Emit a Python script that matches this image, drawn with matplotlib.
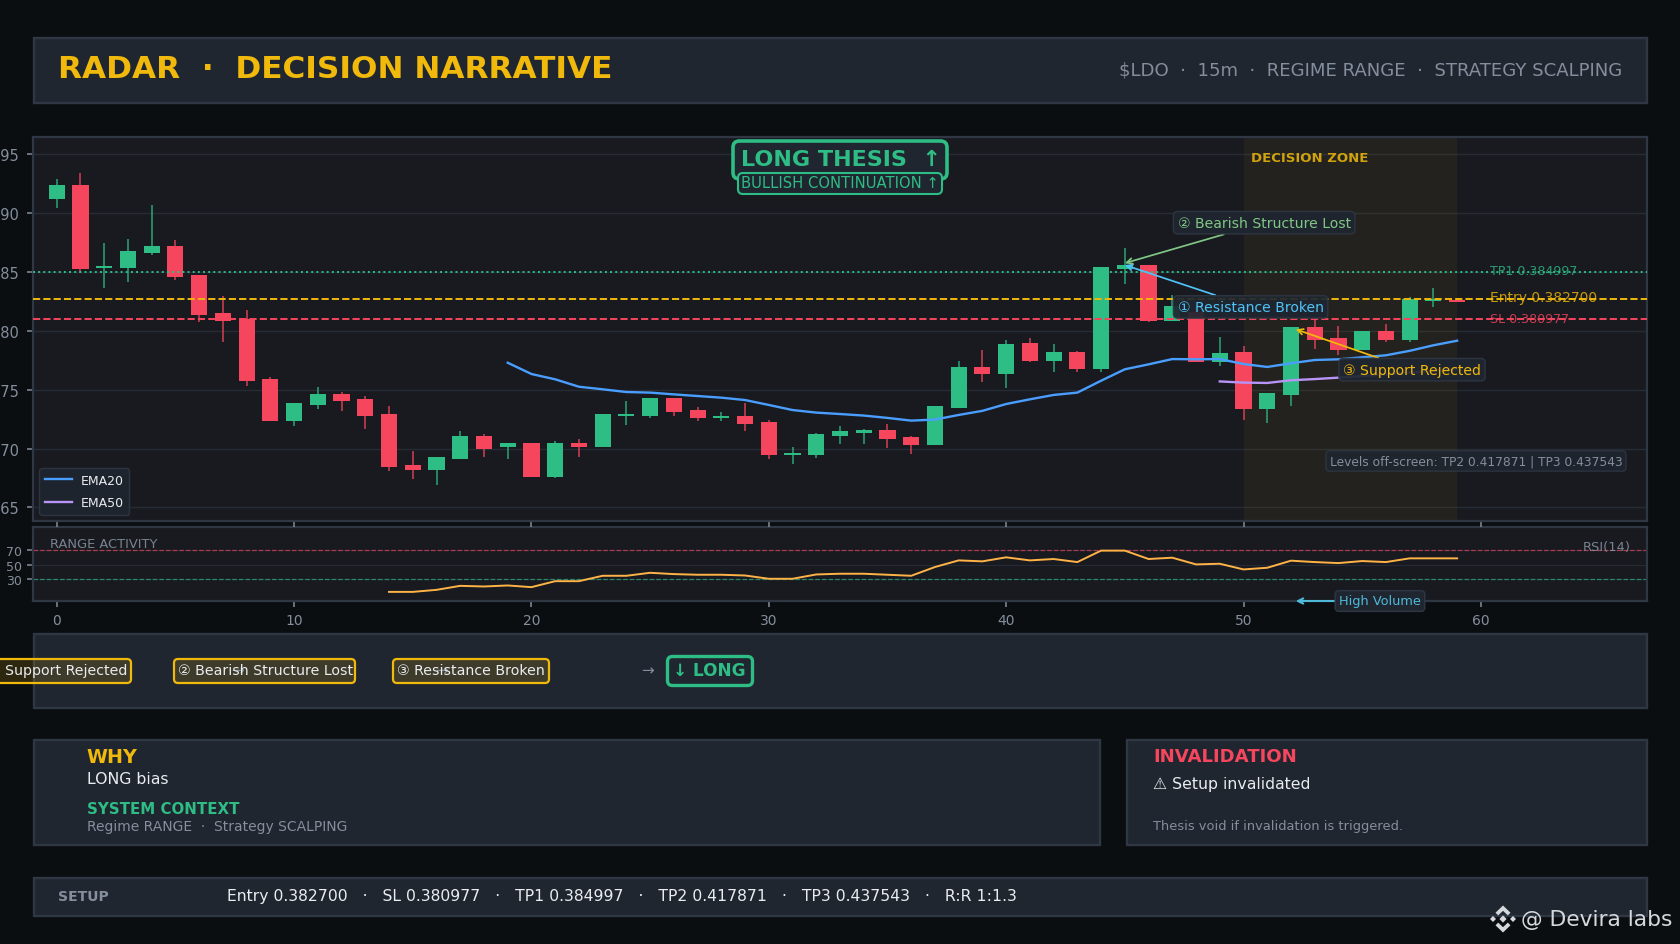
import numpy as np
import matplotlib
matplotlib.use("Agg")
import matplotlib.pyplot as plt
from matplotlib.patches import FancyBboxPatch, Rectangle, Polygon

plt.rcParams['font.family'] = ['DejaVu Sans']

# ---------- data (prices in thousandths) ----------
opens = [391.20,392.39,385.34,385.34,386.61,387.21,384.75,381.52,381.03,375.90,
         372.34,373.70,374.63,374.20,372.93,368.60,368.17,369.11,371.06,370.09,
         370.43,367.62,370.51,370.17,372.76,372.76,374.29,373.27,372.59,372.76,
         372.25,369.45,369.45,371.06,371.32,371.57,370.98,370.30,373.44,376.93,
         376.33,378.97,377.44,378.20,376.76,385.25,385.59,380.84,381.63,377.35,
         378.20,373.36,374.55,380.33,379.39,378.37,379.99,379.22,382.54,382.62]
closes = [392.39,385.25,385.51,386.78,387.21,384.58,381.35,380.84,375.74,372.34,
          373.87,374.63,374.03,372.76,368.43,368.17,369.28,371.06,369.96,370.51,
          367.62,370.51,370.17,372.93,372.93,374.29,373.10,372.59,372.76,372.08,
          369.45,369.62,371.23,371.49,371.57,370.81,370.30,373.61,376.93,376.33,
          378.88,377.44,378.20,376.76,385.42,385.59,380.84,382.11,377.38,378.12,
          373.36,374.72,380.33,379.22,378.37,379.99,379.22,382.71,382.71,382.45]
highs = [392.88,393.39,387.44,387.78,390.67,387.69,384.75,382.96,381.77,376.07,
         373.87,375.22,374.80,374.46,373.61,369.79,369.28,371.49,371.23,370.51,
         370.51,370.60,370.77,372.93,374.03,374.29,374.29,373.53,373.10,373.87,
         372.42,370.14,371.32,371.91,371.66,372.08,371.06,373.61,377.44,378.37,
         379.22,379.39,378.88,378.29,385.42,387.04,385.59,383.05,382.00,379.48,
         378.71,374.72,380.33,380.92,380.41,380.00,380.58,382.88,383.64,382.62]
lows = [390.47,384.94,383.67,384.18,386.44,384.32,380.75,379.05,375.31,372.34,
        371.92,373.36,373.19,371.65,368.09,367.41,366.90,369.11,369.28,369.11,
        367.62,367.53,369.28,370.17,372.00,372.59,372.76,372.34,372.34,371.49,
        369.11,368.68,369.20,370.38,370.38,370.04,369.53,370.30,373.44,375.65,
        375.14,377.35,376.50,376.50,376.50,383.98,380.75,380.84,377.38,377.01,
        372.42,372.20,373.61,378.46,377.95,378.37,379.05,379.05,382.03,382.45]
ema20_x = list(range(19, 60))
ema20 = [377.29,376.33,375.88,375.25,375.03,374.80,374.75,374.60,374.46,374.32,
         374.12,373.70,373.27,373.05,372.93,372.80,372.60,372.37,372.46,372.85,
         373.20,373.78,374.18,374.55,374.75,375.76,376.73,377.15,377.60,377.58,
         377.60,377.18,376.93,377.24,377.52,377.58,377.75,377.92,378.30,378.77,379.16]
ema50_x = list(range(49, 60))
ema50 = [375.70,375.60,375.57,375.80,375.90,376.02,376.16,376.30,376.45,376.60,376.75]
rsi_x = list(range(14, 60))
rsi = [12.5,12.5,15.3,20.8,19.9,21.3,19.0,27.2,27.2,34.6,34.6,38.7,36.9,36.0,36.0,
       35.0,30.5,30.5,36.4,37.4,37.4,36.0,34.6,46.6,55.7,54.4,59.9,55.7,57.6,53.4,
       69.1,69.1,57.6,59.4,50.2,51.1,43.3,45.6,55.3,53.4,52.0,54.8,53.4,58.5,58.5,58.5]
TP1, ENTRY, SL = 0.384997, 0.382700, 0.380977
flow_labels = ["① Support Rejected", "② Bearish Structure Lost", "③ Resistance Broken"]

opens, closes, highs, lows = [np.array(a) / 1000 for a in (opens, closes, highs, lows)]
ema20, ema50 = np.array(ema20) / 1000, np.array(ema50) / 1000
idx = np.arange(len(opens))

# ---------- colours ----------
BG = '#0B0E11'; PANEL = '#1F2630'; PLOT = '#181A20'; EDGE = '#2F3744'
GREEN = '#2EBD85'; RED = '#F6465D'; YELLOW = '#F0B90B'
GREY = '#848E9C'; WHITE = '#EAECEF'; CYAN = '#4FC3F7'; LGREEN = '#81C784'

W, H = 1680, 945
fig = plt.figure(figsize=(W / 100, H / 100), dpi=100, facecolor=BG)

def axes_px(x0, y0, x1, y1, **kw):
    return fig.add_axes([x0 / W, 1 - y1 / H, (x1 - x0) / W, (y1 - y0) / H], **kw)

# ---------- page layer ----------
pg = axes_px(0, 0, W, H, zorder=0)
pg.set_xlim(0, W); pg.set_ylim(H, 0); pg.axis('off')

def panel(x0, y0, x1, y1):
    pg.add_patch(Rectangle((x0, y0), x1 - x0, y1 - y0, fc=PANEL, ec=EDGE, lw=1.7))

panel(33.5, 38.5, 1646.5, 104)
panel(33.5, 634.5, 1646.5, 708.5)
panel(33.5, 740.5, 1100, 845.5)
panel(1127, 740.5, 1646.5, 845.5)
panel(33.5, 878.5, 1646.5, 917)

pg.text(58, 70, "RADAR  ·  DECISION NARRATIVE", color=YELLOW, fontsize=22.45,
        fontweight='bold', va='center', ha='left')
pg.text(1622, 70.5, "$LDO  ·  15m  ·  REGIME RANGE  ·  STRATEGY SCALPING", color=GREY,
        fontsize=13.05, va='center', ha='right')

# flow
for cx in (237, 442, 648):
    pg.text(cx, 671, "→", color=GREY, fontsize=11, va='center', ha='center')
flow_boxes = [(-40, 131), (174, 355), (393, 549)]
flow_anchor = [(127.5, 'right'), (178, 'left'), (397, 'left')]
for lab, (bx0, bx1), (tx, tha) in zip(flow_labels, flow_boxes, flow_anchor):
    pg.add_patch(FancyBboxPatch((bx0 + 3, 663), bx1 - bx0 - 6, 18,
                                boxstyle="round,pad=3,rounding_size=4",
                                fc=(240 / 255, 185 / 255, 11 / 255, 0.15), ec=YELLOW, lw=1.6))
    pg.text(tx, 671, lab, color=WHITE, fontsize=10.2, va='center', ha=tha)
pg.add_patch(FancyBboxPatch((671, 661), 78, 22, boxstyle="round,pad=3.5,rounding_size=5",
                            fc=PANEL, ec=GREEN, lw=2.4))
pg.text(709.5, 670.5, "↓ LONG", color=GREEN, fontsize=12.2, fontweight='bold', va='center', ha='center')

# why / invalidation
pg.text(86.5, 757.5, "WHY", color=YELLOW, fontsize=13.7, fontweight='bold', va='center')
pg.text(87, 779.5, "LONG bias", color=WHITE, fontsize=11.3, va='center')
pg.text(87, 809.5, "SYSTEM CONTEXT", color=GREEN, fontsize=10.8, fontweight='bold', va='center')
pg.text(87, 827.5, "Regime RANGE  ·  Strategy SCALPING", color=GREY, fontsize=10, va='center')
pg.text(1153, 757.5, "INVALIDATION", color=RED, fontsize=13.1, fontweight='bold', va='center')
pg.text(1153, 784, "⚠ Setup invalidated", color=WHITE, fontsize=11.3, va='center')
pg.text(1153, 826.5, "Thesis void if invalidation is triggered.", color=GREY, fontsize=9.4, va='center')

# setup
pg.text(58, 897, "SETUP", color=GREY, fontsize=10.1, fontweight='bold', va='center')
pg.text(227, 897, "Entry 0.382700   ·   SL 0.380977   ·   TP1 0.384997   ·   TP2 0.417871   ·   "
        "TP3 0.437543   ·   R:R 1:1.3", color=WHITE, fontsize=11.26, va='center')

# watermark
WM = '#D5D8DC'
cx, cy = 1503, 920
pg.text(1521, 920, "@ Devira labs", color=WM, fontsize=15.65, va='center', ha='left', zorder=6)
def dia(x, y, r):
    pg.add_patch(Polygon([(x - r, y), (x, y - r), (x + r, y), (x, y + r)], fc=WM, ec='none', zorder=6))
dia(cx, cy, 3.6); dia(cx - 10, cy, 3); dia(cx + 10, cy, 3)
for s in (-1, 1):
    pg.add_patch(Polygon([(cx, cy + s * 13.5), (cx + 7.5, cy + s * 6.3), (cx + 4.8, cy + s * 3.6),
                          (cx, cy + s * 8.2), (cx - 4.8, cy + s * 3.6), (cx - 7.5, cy + s * 6.3)],
                         fc=WM, ec='none', zorder=6))

# ---------- main chart ----------
AX_TOP, AX_BOT = 138, 522
AX_H = AX_BOT - AX_TOP
ax = axes_px(33, AX_TOP, 1647, AX_BOT, zorder=2, facecolor=PLOT)
ax.set_xlim(-1, 67)
ax.set_ylim(0.36384, 0.39647)
ax.set_yticks([0.365, 0.370, 0.375, 0.380, 0.385, 0.390, 0.395])
ax.set_yticklabels([f"{v:.3f}" for v in ax.get_yticks()])
ax.set_xticks(range(0, 61, 10))
ax.tick_params(axis='y', colors=GREY, labelsize=10.5, length=4.5, width=1.1, pad=5.5)
ax.tick_params(axis='x', colors=GREY, labelbottom=False, length=4.5, width=1.1)
ax.grid(axis='y', color='#272B33', lw=1, zorder=0)
ax.set_axisbelow(True)
for s in ax.spines.values():
    s.set_color(EDGE); s.set_linewidth(1.6)

ax.axvspan(50, 59, color=YELLOW, alpha=0.055, lw=0, zorder=1)
cols = [GREEN if c >= o else RED for o, c in zip(opens, closes)]
ax.vlines(idx, lows, highs, colors=cols, lw=1.1, alpha=0.85, zorder=2)
ax.bar(idx, np.abs(closes - opens), bottom=np.minimum(opens, closes), width=0.68,
       color=cols, lw=0, zorder=3)

ax.axhline(TP1, color=GREEN, ls=':', lw=1.4, zorder=4)
ax.axhline(ENTRY, color=YELLOW, ls='--', lw=1.4, zorder=4)
ax.axhline(SL, color=RED, ls='--', lw=1.4, zorder=4)

l20, = ax.plot(ema20_x, ema20, color='#4A9EFF', lw=1.7, label='EMA20', zorder=5)
l50, = ax.plot(ema50_x, ema50, color='#B794F6', lw=1.7, label='EMA50', zorder=5)

ax.text(60.4, 0.38514, f"TP1 {TP1:.6f}", color=GREEN, fontsize=9.1, va='center', alpha=.8, zorder=6)
ax.text(60.4, 0.38288, f"Entry {ENTRY:.6f}", color=YELLOW, fontsize=10, va='center', alpha=.8, zorder=6)
ax.text(60.4, 0.38106, f"SL {SL:.6f}", color=RED, fontsize=9.1, va='center', alpha=.8, zorder=6)

leg = ax.legend(loc='lower left', bbox_to_anchor=(0.0, 0.0), fontsize=9, facecolor=PANEL,
                edgecolor=EDGE, labelcolor=WHITE, framealpha=0.9, borderpad=0.45,
                labelspacing=0.75, handlelength=2.15, handletextpad=0.7)
leg.set_zorder(7)

def note(text, xy, xytext, col, fs=10.1):
    ax.annotate(text, xy=xy, xytext=xytext, color=col, fontsize=fs, ha='center', va='center',
                zorder=8, bbox=dict(boxstyle='round,pad=0.3', fc=PANEL, ec=EDGE, alpha=0.92),
                arrowprops=dict(arrowstyle='->', color=col, lw=1.25, shrinkA=0, shrinkB=0))

note("① Resistance Broken", (45, 0.38559), (50.3, 0.38203), CYAN)
note("② Bearish Structure Lost", (45, 0.38575), (50.87, 0.38919), LGREEN)
note("③ Support Rejected", (52.2, 0.38013), (57.1, 0.3767), YELLOW)

tr = ax.transAxes
ax.text((1251 - 33) / 1614, 1 - (157 - 137) / AX_H, "DECISION ZONE", transform=tr, color=YELLOW,
        fontsize=9.5, fontweight='bold', alpha=0.85, va='center', ha='left', zorder=6)
ax.text((1476 - 33) / 1614, 1 - (461 - 137) / AX_H, "Levels off-screen: TP2 0.417871 | TP3 0.437543",
        transform=tr, color=GREY, fontsize=8.8, va='center', ha='center', zorder=8,
        bbox=dict(boxstyle='round,pad=0.3', fc=PANEL, ec=EDGE, alpha=0.85))
ax.add_patch(FancyBboxPatch((0.5 - 107 / 1614, 1 - 42 / AX_H), 214 / 1614, 38 / AX_H,
                            boxstyle="round,pad=0,rounding_size=0.004", mutation_aspect=4.2,
                            transform=tr, fc=PANEL, ec=GREEN, lw=2.6, zorder=7))
ax.text(0.5005, 1 - (158.5 - 136) / AX_H, "LONG THESIS  ↑", transform=tr, color=GREEN, fontsize=16,
        fontweight='bold', va='center', ha='center', zorder=9)
ax.add_patch(FancyBboxPatch((0.5 - 102 / 1614, 1 - 57 / AX_H), 204 / 1614, 21 / AX_H,
                            boxstyle="round,pad=0,rounding_size=0.003", mutation_aspect=4.2,
                            transform=tr, fc=PANEL, ec=GREEN, lw=1.5, zorder=8))
ax.text(0.5, 1 - (183 - 137) / AX_H, "BULLISH CONTINUATION ↑", transform=tr, color=GREEN, fontsize=10.6,
        va='center', ha='center', zorder=9)

# ---------- RSI ----------
ar = axes_px(33, 528, 1647, 602, zorder=1, facecolor=PLOT)
ar.set_xlim(-1, 67)
ar.set_ylim(0, 101.5)
ar.set_yticks([30, 50, 70])
ar.set_xticks(range(0, 61, 10))
ar.tick_params(axis='y', colors=GREY, labelsize=9, length=4.5, width=1.1)
ar.tick_params(axis='x', colors=GREY, labelsize=10, length=4.5, width=1.1, pad=4)
ar.grid(axis='y', color='#272B33', lw=0.8)
ar.set_axisbelow(True)
for s in ar.spines.values():
    s.set_color(EDGE); s.set_linewidth(1.6)
ar.axhline(70, color=RED, ls='--', lw=0.9, alpha=0.65)
ar.axhline(30, color=GREEN, ls='--', lw=0.9, alpha=0.65)
ar.plot(rsi_x, rsi, color='#FFB347', lw=1.4)
ar.text((50 - 33) / 1614, 1 - (544 - 528) / 74, "RANGE ACTIVITY", transform=ar.transAxes, color=GREY,
        fontsize=9.35, va='center', alpha=.9)
ar.text((1631 - 33) / 1614, 1 - (547 - 528) / 74, "RSI(14)", transform=ar.transAxes, color=GREY,
        fontsize=9.4, va='center', ha='right', alpha=.9)
ar.annotate("High Volume", xy=(52.2, 0), xytext=(55.75, 0), color='#4FB9D9', fontsize=9.3,
            ha='center', va='center', annotation_clip=False, zorder=8,
            bbox=dict(boxstyle='round,pad=0.3', fc=PANEL, ec=EDGE),
            arrowprops=dict(arrowstyle='->', color='#4FB9D9', lw=1.5, shrinkA=0, shrinkB=0))

fig.savefig('out.png', dpi=100, facecolor=BG)
